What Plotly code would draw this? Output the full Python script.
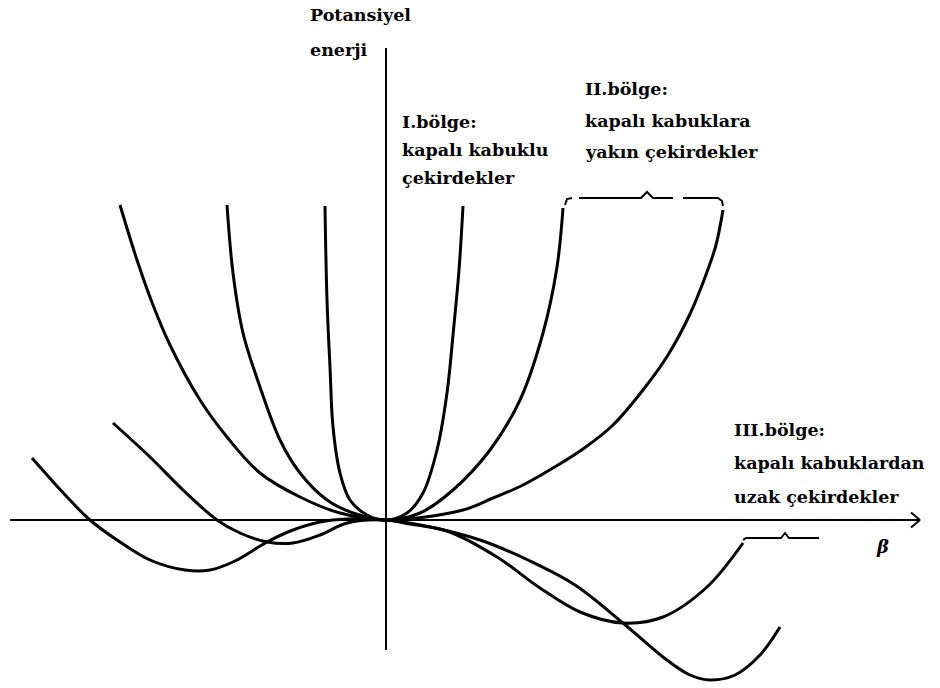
import plotly.graph_objects as go

# ---- data (beta, potential energy), read from the schematic ----
beta_A = [-0.61, -0.59, -0.56, -0.53, -0.46, -0.36, -0.19, 0.0, 0.21, 0.37, 0.51, 0.61, 0.67, 0.73, 0.77]
V_A    = [3.14, 2.20, 1.53, 0.93, 0.47, 0.20, 0.05, 0.0, 0.07, 0.27, 0.70, 1.27, 1.85, 2.50, 3.14]

beta_B = [-1.59, -1.53, -1.43, -1.26, -1.06, -0.86, -0.59, -0.33, 0.0, 0.34, 0.67, 1.04, 1.34, 1.57, 1.71, 1.77]
V_B    = [3.15, 2.47, 1.87, 1.33, 0.80, 0.47, 0.20, 0.07, 0.0, 0.07, 0.30, 0.70, 1.20, 1.87, 2.53, 3.12]

beta_C = [-2.66, -2.49, -2.33, -2.16, -1.86, -1.59, -1.26, -0.86, -0.46, 0.0,
          0.77, 1.07, 1.37, 1.67, 1.97, 2.27, 2.57, 2.82, 3.04, 3.21, 3.30, 3.37]
V_C    = [3.15, 2.60, 2.15, 1.75, 1.20, 0.83, 0.47, 0.23, 0.07, 0.0,
          0.10, 0.22, 0.35, 0.52, 0.71, 0.95, 1.30, 1.65, 2.06, 2.48, 2.75, 3.10]

beta_D = [-2.73, -2.36, -2.03, -1.69, -1.46, -1.19, -0.93, -0.66, -0.39, 0.0, 0.24, 0.61, 1.11, 1.54, 1.94, 2.37, 2.77, 3.21, 3.57]
V_D    = [0.97, 0.63, 0.30, 0.0, -0.13, -0.22, -0.23, -0.15, -0.03, 0.0, -0.04, -0.11, -0.37, -0.68, -0.92, -1.03, -0.97, -0.67, -0.23]

beta_E = [-3.54, -3.19, -2.96, -2.69, -2.36, -2.01, -1.76, -1.51, -1.19, -0.93, -0.66, -0.39, 0.0,
          0.44, 0.94, 1.44, 1.89, 2.37, 2.77, 3.04, 3.24, 3.49, 3.74, 3.94]
V_E    = [0.62, 0.23, 0.0, -0.20, -0.40, -0.50, -0.50, -0.41, -0.22, -0.10, -0.02, 0.01, 0.0,
          -0.07, -0.20, -0.41, -0.65, -1.03, -1.37, -1.55, -1.60, -1.55, -1.35, -1.07]

curves = [(beta_A, V_A), (beta_B, V_B), (beta_C, V_C), (beta_D, V_D), (beta_E, V_E)]

# braces marking regions II and III
brace2_segments = [
    ([1.79, 1.81, 1.86], [3.15, 3.21, 3.22]),
    ([1.93, 2.55, 2.61, 2.67, 2.87], [3.22, 3.22, 3.28, 3.22, 3.22]),
    ([2.97, 3.32, 3.36, 3.37], [3.22, 3.22, 3.19, 3.14]),
]
brace3_beta = [3.57, 3.60, 3.95, 3.99, 4.03, 4.33]
brace3_V    = [-0.20, -0.18, -0.18, -0.13, -0.18, -0.18]

# text labels: (text, beta, V)
labels = [
    ("Potansiyel", -0.78, 5.05),
    ("enerji", -0.78, 4.70),
    ("I.bölge:", 0.14, 3.98),
    ("kapalı kabuklu", 0.14, 3.70),
    ("çekirdekler", 0.14, 3.42),
    ("II.bölge:", 1.97, 4.31),
    ("kapalı kabuklara", 1.97, 3.99),
    ("yakın çekirdekler", 1.97, 3.68),
    ("III.bölge:", 3.46, 0.90),
    ("kapalı kabuklardan", 3.46, 0.57),
    ("uzak çekirdekler", 3.46, 0.23),
]
beta_label = ("β", 4.96, -0.26)

# axis extents
x_axis_from, x_axis_to = -3.76, 5.34
y_axis_from, y_axis_to = -1.30, 4.72

fig = go.Figure()

for bx, v in curves:
    fig.add_trace(go.Scatter(x=bx, y=v, mode="lines",
                             line=dict(color="black", width=3, shape="spline", smoothing=1.0),
                             hoverinfo="skip"))

for bx, v in brace2_segments:
    fig.add_trace(go.Scatter(x=bx, y=v, mode="lines",
                             line=dict(color="black", width=2), hoverinfo="skip"))
fig.add_trace(go.Scatter(x=brace3_beta, y=brace3_V, mode="lines",
                         line=dict(color="black", width=2), hoverinfo="skip"))

# axes as lines
shapes = [
    dict(type="line", x0=x_axis_from, x1=x_axis_to, y0=0, y1=0, line=dict(color="black", width=2)),
    dict(type="line", x0=x_axis_to - 0.09, x1=x_axis_to, y0=0.075, y1=0, line=dict(color="black", width=2)),
    dict(type="line", x0=x_axis_to - 0.09, x1=x_axis_to, y0=-0.075, y1=0, line=dict(color="black", width=2)),
    dict(type="line", x0=0, x1=0, y0=y_axis_from, y1=y_axis_to, line=dict(color="black", width=2)),
]

annotations = []
for t, bx, v in labels:
    annotations.append(dict(text="<b>" + t + "</b>", x=bx, y=v, xref="x", yref="y", showarrow=False,
                            xanchor="left", yanchor="middle",
                            font=dict(family="DejaVu Serif", size=17.5, color="black")))
annotations.append(dict(text="<b><i>" + beta_label[0] + "</i></b>", x=beta_label[1], y=beta_label[2],
                        xref="x", yref="y", showarrow=False, xanchor="center", yanchor="middle",
                        font=dict(family="DejaVu Serif", size=18, color="black")))

fig.update_layout(
    width=940, height=688,
    margin=dict(l=0, r=0, t=0, b=0),
    paper_bgcolor="white", plot_bgcolor="white",
    showlegend=False,
    shapes=shapes, annotations=annotations,
    xaxis=dict(range=[-3.86, 5.54], visible=False, fixedrange=True),
    yaxis=dict(range=[-1.68, 5.20], visible=False, fixedrange=True),
)

fig.write_html("out.html", config={"displayModeBar": False},
               post_script="document.body.style.margin='0';document.body.style.overflow='hidden';")
